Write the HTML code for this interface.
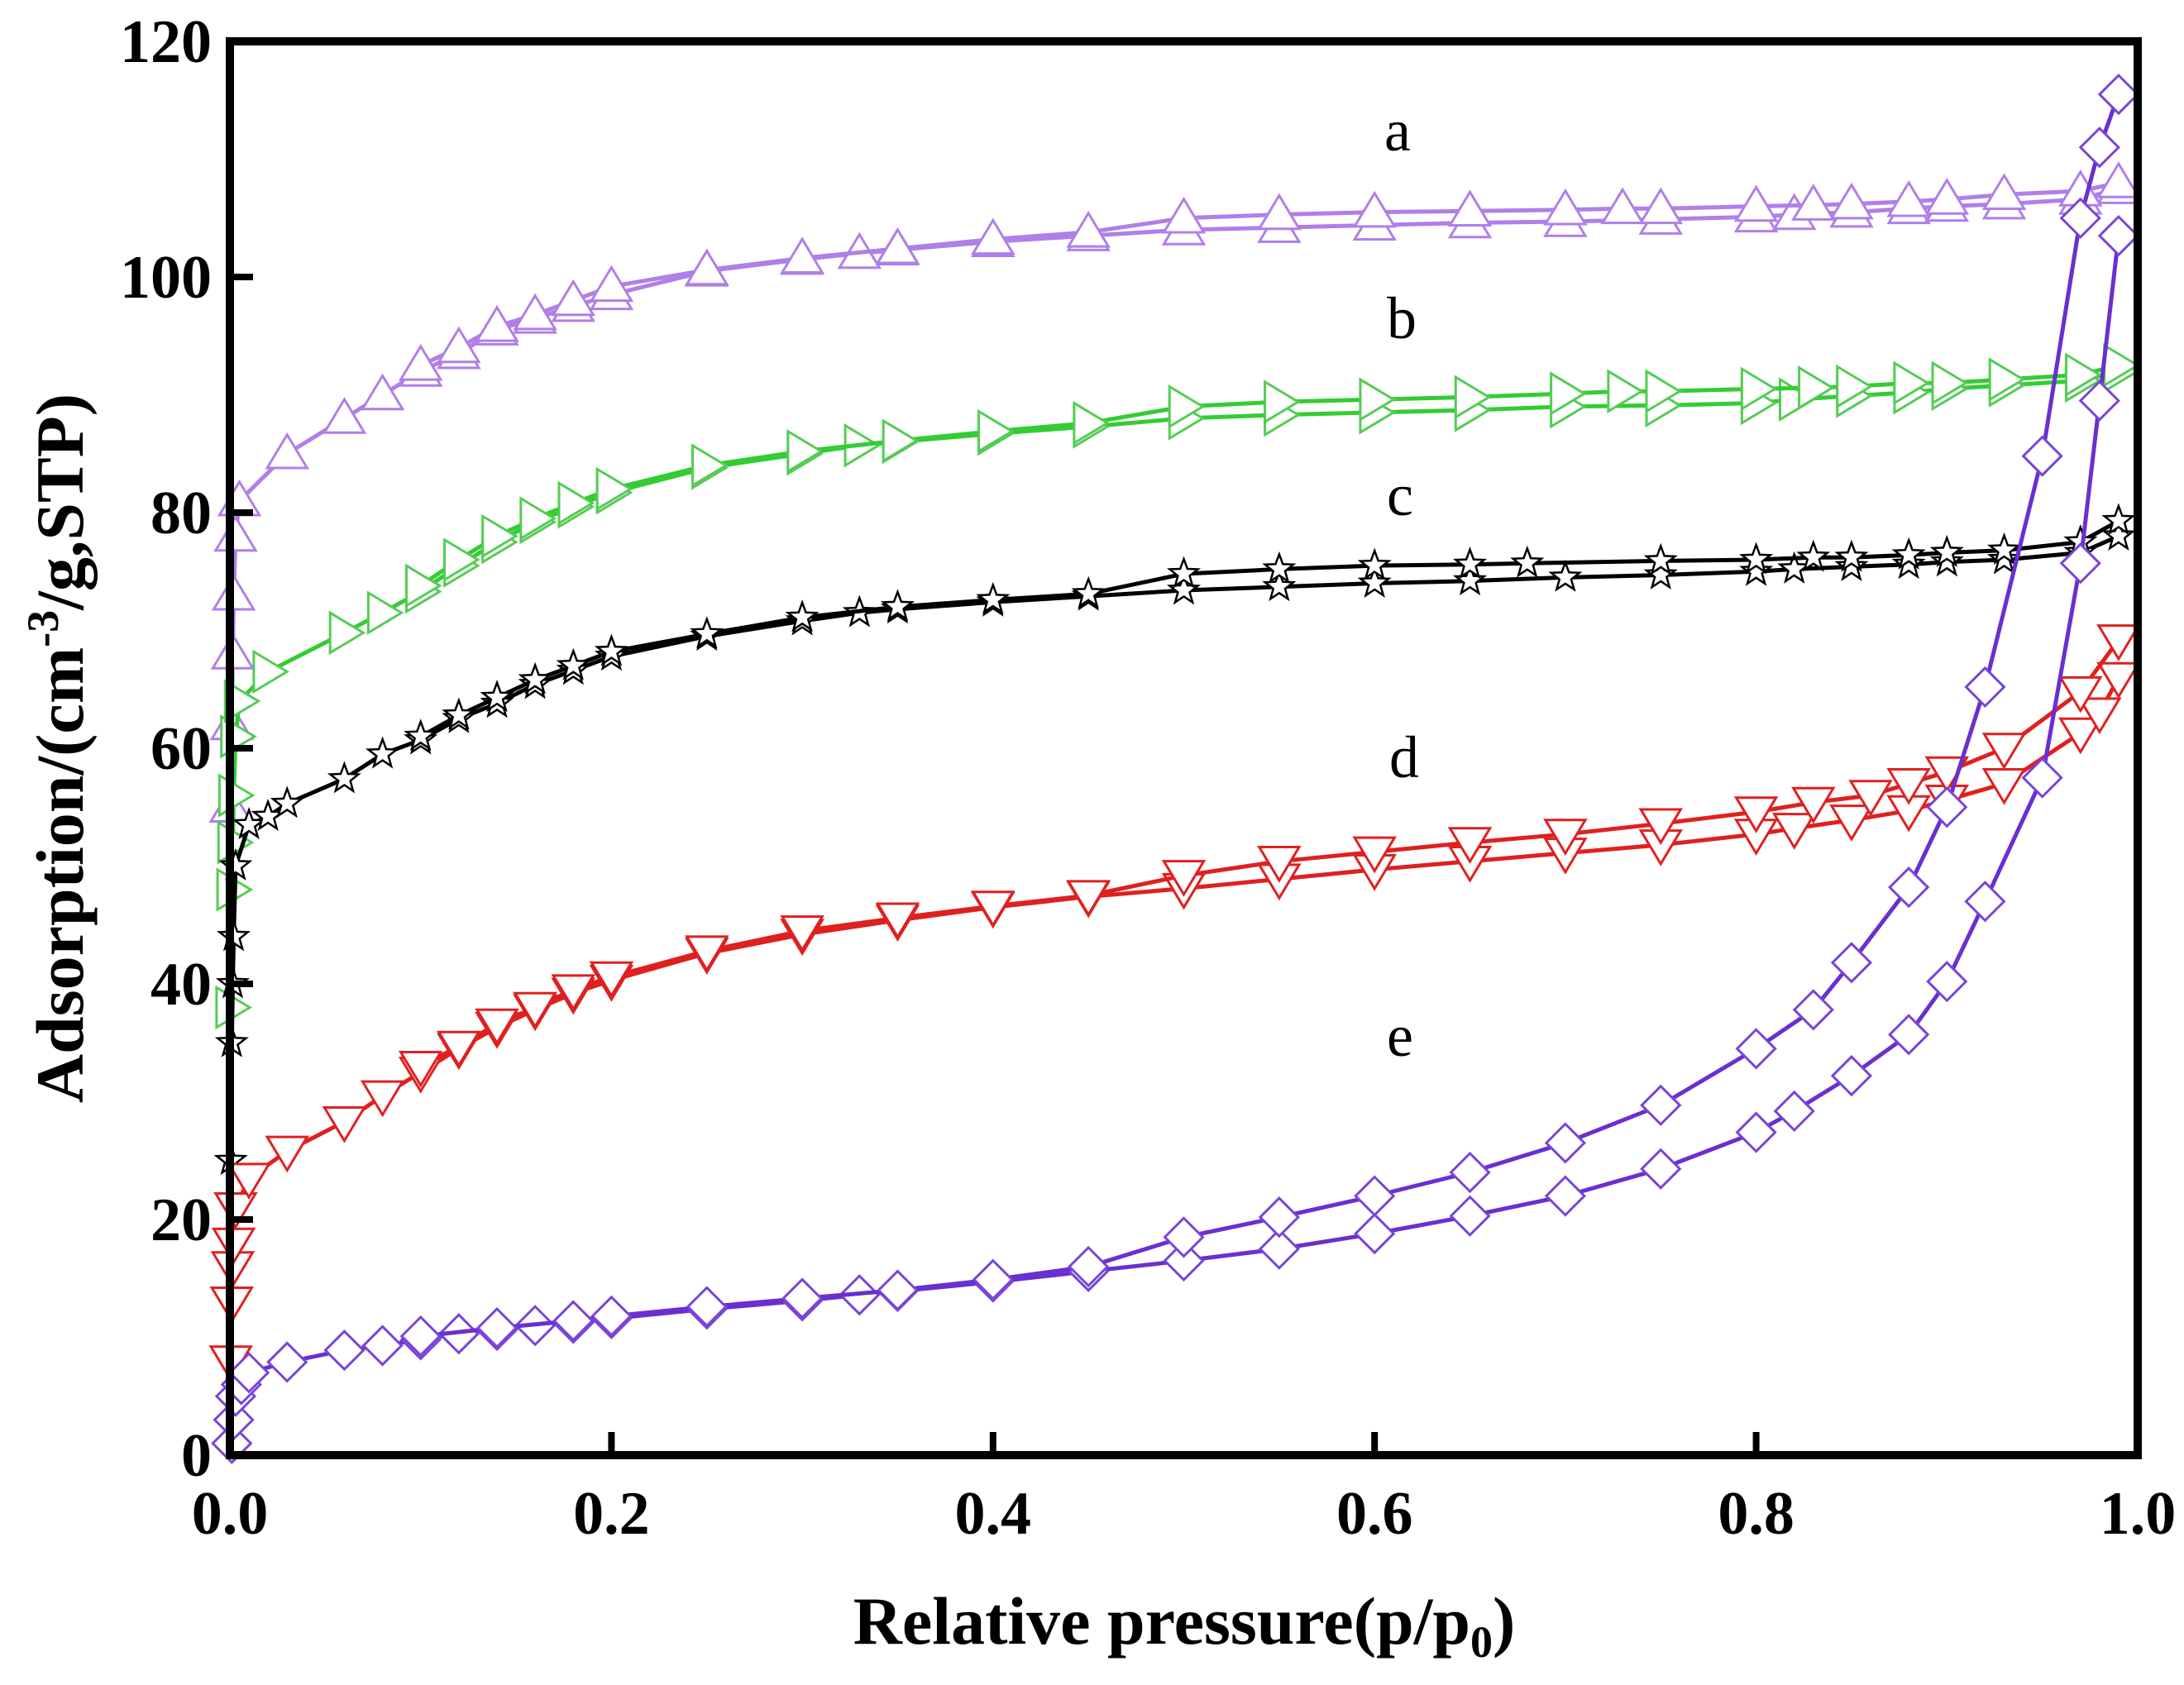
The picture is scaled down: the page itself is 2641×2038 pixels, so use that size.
<!DOCTYPE html>
<html><head><meta charset="utf-8"><style>
html,body{margin:0;padding:0;background:#fff;}
svg{display:block;}
text{font-family:"Liberation Serif",serif;}
</style></head>
<body>
<svg id="chart" width="2641" height="2038" viewBox="0 0 2641 2038" xmlns="http://www.w3.org/2000/svg">
<rect x="0" y="0" width="2641" height="2038" fill="#fff"/>
<g id="plot"></g>
<g id="axes"></g>
</svg>
<script>
const xTicks=[0,0.2,0.4,0.6,0.8,1.0];
const xTickLabels=["0.0","0.2","0.4","0.6","0.8","1.0"];
const yTicks=[0,20,40,60,80,100,120];
const yTickLabels=["0","20","40","60","80","100","120"];

const aAdsX=[0.0005,0.001,0.0015,0.002,0.003,0.005,0.03,0.06,0.08,0.1,0.12,0.14,0.16,0.18,0.2,0.25,0.3,0.33,0.35,0.4,0.45,0.5,0.55,0.6,0.65,0.7,0.75,0.8,0.82,0.85,0.88,0.9,0.93,0.97,0.99];
const aAdsY=[55,62,68,73,78,81,85,88,90,92,93.5,95.5,96.5,97.5,98.5,100.5,101.5,102,102.3,103,103.5,104,104.2,104.4,104.6,104.7,104.9,105.1,105.3,105.5,105.8,106,106.2,106.6,107.5];
const aDesX=[0.99,0.97,0.93,0.9,0.88,0.85,0.83,0.8,0.75,0.73,0.7,0.65,0.6,0.55,0.5,0.45,0.4,0.35,0.3,0.25,0.2,0.18,0.16,0.14,0.12,0.1];
const aDesY=[108,107.3,107,106.6,106.4,106.2,106.1,106,105.8,105.8,105.7,105.6,105.5,105.3,105,103.8,103.2,102.4,101.6,100.6,99.2,98,96.8,95.8,94,92.5];

const bAdsX=[0.0005,0.001,0.0015,0.002,0.003,0.005,0.02,0.06,0.08,0.1,0.12,0.14,0.16,0.18,0.2,0.25,0.3,0.33,0.35,0.4,0.45,0.5,0.55,0.6,0.65,0.7,0.75,0.8,0.82,0.85,0.88,0.9,0.93,0.97,0.99];
const bAdsY=[38,48,52,56,61,64,66.5,69.8,71.5,73.3,75.5,77.5,79.2,80.5,81.7,83.8,85,85.7,86,86.7,87.3,88,88.3,88.5,88.7,89,89.1,89.3,89.6,89.9,90.2,90.5,90.8,91.2,92];
const bDesX=[0.99,0.97,0.93,0.9,0.88,0.85,0.83,0.8,0.75,0.73,0.7,0.65,0.6,0.55,0.5,0.45,0.4,0.35,0.3,0.25,0.2,0.18,0.16,0.14,0.12,0.1];
const bDesY=[92.5,91.7,91.3,91,91,90.7,90.6,90.5,90.3,90.3,90.1,89.8,89.6,89.4,89,87.6,86.9,86.1,85.2,84,82,80.8,79.5,78,76,73.8];

const cAdsX=[0.0005,0.001,0.0015,0.002,0.003,0.01,0.02,0.03,0.06,0.08,0.1,0.12,0.14,0.16,0.18,0.2,0.25,0.3,0.33,0.35,0.4,0.45,0.5,0.55,0.6,0.65,0.7,0.75,0.8,0.82,0.85,0.88,0.9,0.93,0.97,0.99];
const cAdsY=[25,35,40,44,50,53.5,54.2,55.3,57.4,59.5,60.7,62.5,63.8,65.4,66.6,67.8,69.5,70.8,71.5,71.8,72.4,72.9,73.4,73.7,74,74.2,74.5,74.7,75,75.2,75.4,75.6,75.8,76,76.6,78];
const cDesX=[0.99,0.97,0.93,0.9,0.88,0.85,0.83,0.8,0.75,0.68,0.65,0.6,0.55,0.5,0.45,0.4,0.35,0.3,0.25,0.2,0.18,0.16,0.14,0.12,0.1];
const cDesY=[79.3,77.5,76.8,76.6,76.4,76.2,76.2,76,75.9,75.7,75.6,75.5,75.2,74.8,73.1,72.6,72,71.1,69.7,68.2,67,65.8,64.3,62.8,61];

const dAdsX=[0.0005,0.001,0.0015,0.002,0.003,0.01,0.03,0.06,0.08,0.1,0.12,0.14,0.16,0.18,0.2,0.25,0.3,0.35,0.4,0.45,0.5,0.55,0.6,0.65,0.7,0.75,0.8,0.82,0.85,0.88,0.9,0.93,0.97,0.98,0.99];
const dAdsY=[8,13,16,18,21,23.5,25.8,28.3,30.5,32.5,34.5,36.3,37.8,39.2,40.3,42.6,44.2,45.4,46.5,47.4,48.1,48.9,49.7,50.4,51.1,51.8,52.7,53.2,53.9,54.7,55.6,57,61.3,63,66];
const dDesX=[0.99,0.97,0.93,0.9,0.88,0.86,0.83,0.8,0.75,0.7,0.65,0.6,0.55,0.5,0.45,0.4,0.35,0.3,0.25,0.2,0.18,0.16,0.14,0.12,0.1];
const dDesY=[69.2,64.8,60,58,57,56,55.4,54.6,53.6,52.7,52,51.2,50.4,49.2,47.5,46.6,45.6,44.5,42.8,40.6,39.5,38,36.6,34.7,33];

const eAdsX=[0.001,0.002,0.003,0.006,0.01,0.03,0.06,0.08,0.1,0.12,0.14,0.16,0.18,0.2,0.25,0.3,0.33,0.35,0.4,0.45,0.5,0.55,0.6,0.65,0.7,0.75,0.8,0.82,0.85,0.88,0.9,0.92,0.95,0.97,0.98,0.99];
const eAdsY=[1,3,5,6,7,7.9,8.9,9.3,9.8,10.3,10.6,11,11.2,11.6,12.4,13.1,13.6,13.9,14.7,15.6,16.5,17.5,18.8,20.3,22,24.3,27.4,29.2,32.2,35.7,40.2,47,57.5,75.7,89.5,103.5];
const eDesX=[0.99,0.98,0.97,0.95,0.92,0.9,0.88,0.85,0.83,0.8,0.75,0.7,0.65,0.6,0.55,0.5,0.45,0.4,0.35,0.3,0.25,0.2,0.18,0.14,0.1];
const eDesY=[115.5,111,105,84.8,65.2,55,48.2,41.8,37.8,34.5,29.7,26.5,24,22,20.2,18.5,16,14.9,14,13.3,12.6,11.8,11.4,10.8,10.1];

const L=278,R=2585,T=50,B=1760;
function sx(v){return L+(R-L)*v;}
function sy(v){return B-(B-T)*v/120;}
const NS="http://www.w3.org/2000/svg";
function mk(tag,attrs,parent){const e=document.createElementNS(NS,tag);for(const k in attrs)e.setAttribute(k,attrs[k]);parent.appendChild(e);return e;}
const plot=document.getElementById('plot'),axes=document.getElementById('axes');

function markerPath(type,x,y){
  const s=23;
  if(type==='up')return `M${x},${y-s} L${x+s*1.05},${y+s*0.75} L${x-s*1.05},${y+s*0.75}Z`;
  if(type==='down')return `M${x},${y+s} L${x+s*1.05},${y-s*0.75} L${x-s*1.05},${y-s*0.75}Z`;
  if(type==='right')return `M${x+s},${y} L${x-s*0.75},${y-s*1.05} L${x-s*0.75},${y+s*1.05}Z`;
  if(type==='diamond')return `M${x},${y-s} L${x+s},${y} L${x},${y+s} L${x-s},${y}Z`;
  let d='';for(let i=0;i<10;i++){const r=i%2?7.5:18;const a=-Math.PI/2+i*Math.PI/5;d+=(i?'L':'M')+(x+r*Math.cos(a)).toFixed(1)+','+(y+r*Math.sin(a)).toFixed(1);}return d+'Z';
}
function series(name,xs,ys,color,type,mcolor){
  const g=mk('g',{},plot);
  
  
  const pts=xs.map((v,i)=>sx(v).toFixed(1)+','+sy(ys[i]).toFixed(1)).join(' ');
  const pl=mk('polyline',{points:pts,fill:'none',stroke:color,'stroke-width':5},g);
  
  
  xs.forEach((v,i)=>{
    const m=mk('path',{d:markerPath(type,sx(v),sy(ys[i])),fill:'#fff',stroke:mcolor||color,'stroke-width':type==='star'?2.5:3},g);
    
    
  });
}
series('series-a-adsorption',aAdsX,aAdsY,'#b07fe8','up');
series('series-a-desorption',aDesX,aDesY,'#b07fe8','up');
series('series-b-adsorption',bAdsX,bAdsY,'#33cc33','right','#55cc55');
series('series-b-desorption',bDesX,bDesY,'#33cc33','right','#55cc55');
series('series-c-adsorption',cAdsX,cAdsY,'#000','star');
series('series-c-desorption',cDesX,cDesY,'#000','star');
series('series-d-adsorption',dAdsX,dAdsY,'#e02020','down');
series('series-d-desorption',dDesX,dDesY,'#e02020','down');
series('series-e-adsorption',eAdsX,eAdsY,'#6a2fd0','diamond','#7a44d8');
series('series-e-desorption',eDesX,eDesY,'#6a2fd0','diamond','#7a44d8');

const fr=mk('rect',{x:L,y:T,width:R-L,height:B-T,fill:'none',stroke:'#000','stroke-width':10},axes);


xTicks.forEach((v,i)=>{
  const t=mk('line',{x1:sx(v),x2:sx(v),y1:B,y2:B-28,stroke:'#000','stroke-width':8},axes);
  
  
  const tx=mk('text',{x:sx(v),y:B+95,'text-anchor':'middle','font-size':74,'font-weight':'bold'},axes);
  tx.textContent=xTickLabels[i];
  
  
});
yTicks.forEach((v,i)=>{
  const t=mk('line',{x1:L,x2:L+28,y1:sy(v),y2:sy(v),stroke:'#000','stroke-width':8},axes);
  
  
  const tx=mk('text',{x:L-22,y:sy(v)+25,'text-anchor':'end','font-size':74,'font-weight':'bold'},axes);
  tx.textContent=yTickLabels[i];
  
  
});
</script>
<svg style="position:absolute;left:0;top:0" width="2641" height="2038">
<text x="1432" y="1988" text-anchor="middle" font-size="82" font-weight="bold" font-family="Liberation Serif, serif">Relative pressure(p/p<tspan font-size="54" dy="16">0</tspan><tspan dy="-16">)</tspan></text>
<text transform="translate(100,905) rotate(-90)" text-anchor="middle" font-size="82" font-weight="bold" font-family="Liberation Serif, serif">Adsorption/(cm<tspan font-size="54" dy="-30">-3</tspan><tspan dy="30">/g,STP)</tspan></text>
<text x="1690" y="182" text-anchor="middle" font-size="72" font-family="Liberation Serif, serif">a</text>
<text x="1695" y="409" text-anchor="middle" font-size="72" font-family="Liberation Serif, serif">b</text>
<text x="1693" y="623" text-anchor="middle" font-size="72" font-family="Liberation Serif, serif">c</text>
<text x="1698" y="940" text-anchor="middle" font-size="72" font-family="Liberation Serif, serif">d</text>
<text x="1693" y="1277" text-anchor="middle" font-size="72" font-family="Liberation Serif, serif">e</text>
</svg>
</body></html>
